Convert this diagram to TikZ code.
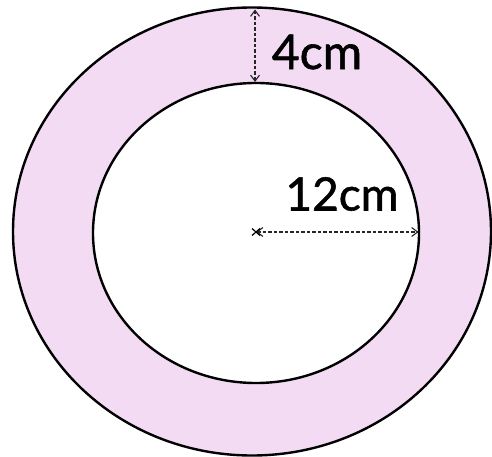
\documentclass[tikz,border=0pt]{standalone}
\usepackage{fontspec}
\setmainfont{Lato}
\newfontfamily\dimfont[FakeBold=1.2]{Lato}
\usetikzlibrary{arrows.meta,shapes.geometric,calc}
\definecolor{ringfill}{RGB}{242,219,243}
\begin{document}
\begin{tikzpicture}[x=1pt,y=-1pt,
  ringline/.style={draw=black, line width=2.4pt},
  dimline/.style={draw=black!85, line width=1.1pt, dash pattern=on 3.5pt off 2pt,
    {Straight Barb[length=6pt,width=9pt,line width=1.1pt]}-{Straight Barb[length=6pt,width=9pt,line width=1.1pt]}},
  dimlabel/.style={font=\dimfont\fontsize{46}{50}\selectfont, inner sep=0pt}]
\useasboundingbox (0,0) rectangle (492,457);
\node[ellipse, ringline, fill=ringfill, minimum width=478pt, minimum height=448pt, inner sep=0pt] (outer) at (252,231.5) {};
\node[ellipse, ringline, fill=white, minimum width=326pt, minimum height=300pt, inner sep=0pt] (inner) at (256,233) {};
\coordinate (c) at (256,232);
\coordinate (topA) at (255,9.5);
\coordinate (topB) at (255,82);
\coordinate (rimR) at (418.5,232);
\draw[dimline] (topA) -- (topB);
\draw[dimline] (c) -- (rimR);
\draw[line width=1.2pt] ($(c)+(-4,-3.5)$) -- ($(c)+(4,3.5)$) ($(c)+(-4,3.5)$) -- ($(c)+(4,-3.5)$);
\node[dimlabel, font=\dimfont\fontsize{48}{52}\selectfont] (l4) at (317,52) {4cm};
\node[dimlabel] (l12) at (342,194) {12cm};
\end{tikzpicture}
\end{document}
